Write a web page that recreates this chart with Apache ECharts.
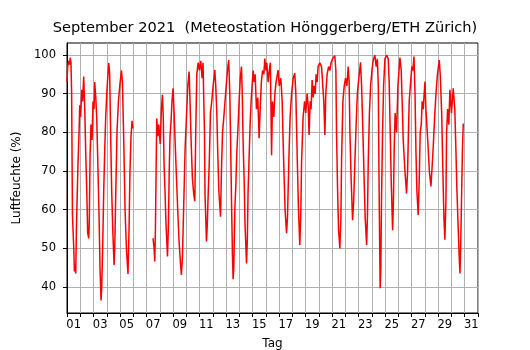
<!DOCTYPE html>
<html>
<head>
<meta charset="utf-8">
<script src="https://cdn.jsdelivr.net/npm/echarts@6/dist/echarts.min.js"></script>
<style>
  html, body { margin: 0; padding: 0; background: #fff; }
  #chart { width: 530px; height: 350px; }
</style>
</head>
<body>
<div id="chart"></div>
<script>
// Tagesbeschriftungen (01 .. 31)
const tagLabels = []
for (let d = 1; d <= 31; d++) tagLabels.push(d < 10 ? '0' + d : String(d))

// Zeitpunkte (Tag des Monats, mit Bruchteil) und Luftfeuchte in %
const tage = [
  1.00, 1.05, 1.13, 1.20, 1.24, 1.30, 1.35, 1.41, 1.51, 1.56, 1.60, 1.66, 1.71, 1.75, 1.83, 1.91, 1.96,
  2.03, 2.11, 2.18, 2.26, 2.34, 2.41, 2.49, 2.56, 2.64, 2.68, 2.74, 2.81, 2.89, 2.96,
  3.04, 3.09, 3.17, 3.24, 3.34, 3.42, 3.49, 3.57, 3.62, 3.69, 3.77, 3.85, 3.92,
  4.00, 4.07, 4.15, 4.22, 4.30, 4.37, 4.45, 4.55, 4.60, 4.70, 4.77, 4.88, 4.98,
  5.11, 5.18, 5.28, 5.38, 5.48, 5.60, 5.68, 5.75, 5.83, 5.91, 5.96,
  6.70,
  7.49, 7.57, 7.62, 7.67, 7.72, 7.77, 7.85, 7.92,
  8.03, 8.12, 8.20, 8.26, 8.32, 8.40, 8.47, 8.58, 8.65, 8.71, 8.77, 8.85, 8.92,
  9.00, 9.08, 9.15, 9.26, 9.35, 9.45, 9.56, 9.63, 9.71, 9.81, 9.91,
  10.01, 10.11, 10.21, 10.28, 10.36, 10.46, 10.56, 10.64, 10.71, 10.79, 10.89, 10.99,
  11.09, 11.19, 11.26, 11.32, 11.37, 11.41, 11.52, 11.58, 11.64, 11.73, 11.82, 11.92,
  12.02, 12.15, 12.22, 12.30, 12.37, 12.45, 12.58, 12.65, 12.73, 12.83, 12.92,
  13.03, 13.13, 13.20, 13.28, 13.33, 13.41, 13.48, 13.53, 13.58, 13.66, 13.73, 13.81, 13.91, 13.98,
  14.07, 14.16, 14.22, 14.28, 14.36, 14.43, 14.54, 14.60, 14.66, 14.74, 14.81, 14.89, 14.96,
  15.04, 15.11, 15.19, 15.29, 15.39, 15.49, 15.57, 15.66, 15.75, 15.85, 15.92,
  16.00, 16.07, 16.17, 16.26, 16.34, 16.43, 16.50, 16.60, 16.68, 16.77, 16.92,
  17.01, 17.13, 17.23, 17.30, 17.38, 17.45, 17.56, 17.63, 17.68, 17.75, 17.83, 17.94,
  18.06, 18.18, 18.26, 18.31, 18.39, 18.46, 18.56, 18.64, 18.69, 18.77, 18.81, 18.92,
  19.01, 19.11, 19.19, 19.26, 19.34, 19.41, 19.49, 19.57, 19.64, 19.72, 19.79, 19.87, 19.94,
  20.07, 20.20, 20.32, 20.37, 20.45, 20.52, 20.62, 20.73, 20.83, 20.92,
  21.03, 21.13, 21.20, 21.28, 21.33, 21.41, 21.48, 21.58, 21.66, 21.71, 21.81, 21.91,
  22.01, 22.11, 22.21, 22.28, 22.34, 22.43, 22.54, 22.62, 22.71, 22.81, 22.90,
  23.01, 23.14, 23.22, 23.32, 23.41, 23.49, 23.60, 23.66, 23.72, 23.81, 23.90,
  24.00, 24.09, 24.22, 24.32, 24.41, 24.48, 24.53, 24.58, 24.62, 24.67, 24.72, 24.80, 24.88, 24.98,
  25.11, 25.23, 25.30, 25.38, 25.45, 25.56, 25.62, 25.68, 25.75, 25.86, 25.96,
  26.11, 26.21, 26.28, 26.36, 26.49, 26.61, 26.69, 26.74, 26.81, 26.92,
  27.01, 27.09, 27.17, 27.25, 27.32, 27.39, 27.49, 27.57, 27.64, 27.72, 27.79, 27.87, 27.94,
  28.00, 28.07, 28.14, 28.24, 28.33, 28.45, 28.52, 28.62, 28.73, 28.83, 28.94,
  29.08, 29.15, 29.26, 29.35, 29.43, 29.50, 29.58, 29.63, 29.71, 29.80, 29.88,
  30.00, 30.13, 30.25, 30.33, 30.41, 30.51, 30.58, 30.64, 30.69, 30.77, 30.83, 30.89,
]

const feuchte = [
  93, 97, 98.5, 97.5, 99.3, 98, 90, 58.6, 50, 44, 46, 43.5, 55, 61, 72, 80, 87,
  84, 91, 88, 94.4, 86, 75, 65, 54, 52.6, 57, 74, 82, 78, 88,
  86, 93, 89, 84, 70, 58, 45, 36.5, 40, 50, 65, 76, 84,
  90, 94, 97.9, 95, 78, 65, 55, 45.7, 50, 68, 80, 88, 92,
  96, 93, 78, 60, 50, 43.4, 55, 70, 79, 83, 81,
  null,
  52.6, 50, 46.6, 55, 70, 83.6, 79, 82,
  77, 86, 89.7, 84, 72, 64, 56, 47.9, 56, 70, 79, 83, 88,
  91.4, 85, 78, 68, 60, 52, 46, 43.1, 48, 62, 76,
  84, 92, 95.7, 88, 78, 68, 64, 62.2, 80, 95, 98, 96,
  98.5, 94, 98, 88, 80, 64, 51.8, 56, 63, 72, 85, 88,
  92, 96.1, 92, 85, 75, 65, 58.2, 70, 80, 84, 88,
  93, 97, 98.7, 90, 80, 62, 48, 42, 45, 60, 66, 75, 82, 88,
  94, 97, 90, 78, 68, 56, 46.1, 52, 65, 74, 82, 88, 92,
  96, 93, 95, 86, 89, 78.5, 86, 93, 96, 95, 99.1,
  96, 98, 93, 96, 98, 74.1, 88, 84, 90, 93, 96.1,
  92, 94, 88, 78, 68, 60, 53.9, 58, 65, 75, 84, 90,
  94, 95.3, 90, 82, 70, 60, 50.9, 60, 72, 80, 84, 88,
  85, 90, 87, 79.3, 88, 86, 93.5, 89, 92, 90, 95, 93, 97,
  98, 97, 97.5, 88, 79.3, 90, 95, 97, 96, 98,
  99, 98.5, 99.8, 96, 80, 65, 55, 50, 58, 73, 88, 92,
  94, 92, 97, 93, 80, 68, 57.3, 62, 72, 82, 90,
  94, 98.1, 92, 80, 68, 58, 50.9, 58, 72, 85, 92,
  96, 98.5, 100, 97, 99, 92, 70, 52, 39.7, 45, 62, 80, 92, 99,
  100, 99, 93, 80, 68, 54.7, 62, 76, 85, 80, 92,
  99.3, 96, 88, 78, 70, 64.2, 70, 78, 88, 93,
  97, 96, 99.6, 90, 75, 65, 58.6, 68, 80, 82, 88, 86, 90,
  93.1, 86, 82, 76, 70, 66, 70, 76, 84, 90, 95,
  98.7, 95, 85, 70, 58, 52.2, 62, 80, 86, 82, 91,
  85, 91.4, 86, 76, 65, 55, 48, 43.5, 50, 65, 76, 82.3,
]

// Achsenbereiche
const xMin = 1
const xMax = 32
const yMin = 33.28
const yMax = 103.1
const yTicks = [40, 50, 60, 70, 80, 90, 100]

const chart = echarts.init(document.getElementById('chart'), null, { renderer: 'canvas' })

const seriesData = tage.map((t, i) => [t, feuchte[i]])

const option = {
  animation: false,
  textStyle: { fontFamily: 'DejaVu Sans' },
  title: {
    text: 'September 2021  (Meteostation Hönggerberg/ETH Zürich)',
    left: 'center',
    top: 21,
    padding: [0, 0, 0, 6],
    textStyle: { fontSize: 14.6, fontWeight: 'normal', color: '#000', fontFamily: 'DejaVu Sans' },
  },
  grid: {
    left: 67,
    top: 43,
    width: 411,
    height: 270,
    outerBoundsMode: 'none',
    show: true,
    borderColor: '#000',
    borderWidth: 1,
    backgroundColor: 'transparent',
  },
  xAxis: [
    {
      type: 'value',
      min: xMin,
      max: xMax,
      show: false,
    },
    {
      type: 'category',
      position: 'bottom',
      data: tagLabels,
      boundaryGap: true,
      name: 'Tag',
      nameLocation: 'middle',
      nameGap: 25,
      nameTextStyle: { fontSize: 12, color: '#000' },
      axisLine: { show: true, lineStyle: { color: '#000', width: 1 } },
      axisTick: { show: true, interval: 0, length: 4, lineStyle: { color: '#000' } },
      axisLabel: { interval: 1, margin: 6, fontSize: 11.5, color: '#000' },
      splitLine: { show: true, interval: 0, lineStyle: { color: '#b0b0b0', width: 1 } },
    },
  ],
  yAxis: {
    type: 'value',
    min: yMin,
    max: yMax,
    name: 'Luftfeuchte (%)',
    nameLocation: 'middle',
    nameGap: 42,
    nameTextStyle: { fontSize: 12, color: '#000' },
    axisLine: { show: true, lineStyle: { color: '#000', width: 1 } },
    axisTick: { show: true, length: 4, customValues: yTicks, lineStyle: { color: '#000' } },
    axisLabel: { margin: 11, fontSize: 11.5, color: '#000', customValues: yTicks },
    splitLine: { show: true, lineStyle: { color: '#b0b0b0', width: 1 } },
  },
  series: [
    {
      type: 'line',
      xAxisIndex: 0,
      data: seriesData,
      showSymbol: false,
      symbol: 'none',
      connectNulls: false,
      lineStyle: { color: '#ff0000', width: 1.5 },
    },
  ],
}

chart.setOption(option)
</script>
</body>
</html>
